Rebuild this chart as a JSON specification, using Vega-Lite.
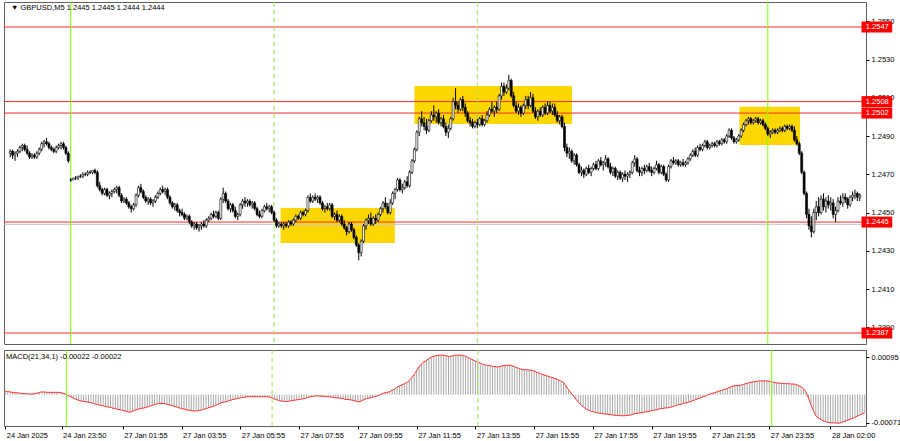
{
"$schema": "https://vega.github.io/schema/vega-lite/v6.json",
"padding": {"left": 2, "top": 1, "right": 0, "bottom": 0},
"background": "white",
"spacing": 4,
"config": {
"view": {"stroke": "#606060", "strokeWidth": 1},
"axis": {"labelFont": "Liberation Sans", "labelFontSize": 7.5, "labelColor": "#000000", "tickColor": "#000000", "tickSize": 3, "domain": false, "grid": false, "labelPadding": 2, "labelOverlap": false, "labelFlush": false},
"text": {"font": "Liberation Sans", "fontSize": 7.5}
},
"datasets": {
"levels": [{"lv":1.2547,"lab":"1.2547"},{"lv":1.2508,"lab":"1.2508"},{"lv":1.2502,"lab":"1.2502"},{"lv":1.2445,"lab":"1.2445"},{"lv":1.2387,"lab":"1.2387"}],
"zones": [{"x0":111.7,"x1":158.9,"top":1.24523,"bot":1.2434},{"x0":167,"x1":232.1,"top":1.251615,"bot":1.249628},{"x0":301.3,"x1":326.3,"top":1.250533,"bot":1.24853}],
"vlines": [{"i":25,"k":"day"},{"i":109,"k":"ses"},{"i":193,"k":"ses"},{"i":313,"k":"day"}],
"bars": [
{"i":0,"o":1.2481,"h":1.2483,"l":1.2479,"c":1.2482,"m":0.00009},
{"i":1,"o":1.2482,"h":1.2483,"l":1.2478,"c":1.2480,"m":0.00008},
{"i":2,"o":1.2480,"h":1.2482,"l":1.2477,"c":1.2481,"m":0.00007},
{"i":3,"o":1.2481,"h":1.2483,"l":1.2479,"c":1.2482,"m":0.00006},
{"i":4,"o":1.2482,"h":1.2485,"l":1.2481,"c":1.2484,"m":0.00005},
{"i":5,"o":1.2484,"h":1.2486,"l":1.2482,"c":1.2485,"m":0.00005},
{"i":6,"o":1.2485,"h":1.2486,"l":1.2482,"c":1.2483,"m":0.00004},
{"i":7,"o":1.2483,"h":1.2485,"l":1.2480,"c":1.2481,"m":0.00003},
{"i":8,"o":1.2481,"h":1.2482,"l":1.2478,"c":1.2479,"m":0.00003},
{"i":9,"o":1.2479,"h":1.2481,"l":1.2478,"c":1.2480,"m":0.00002},
{"i":10,"o":1.2480,"h":1.2481,"l":1.2478,"c":1.2479,"m":0.00002},
{"i":11,"o":1.2479,"h":1.2482,"l":1.2478,"c":1.2481,"m":0.00002},
{"i":12,"o":1.2481,"h":1.2484,"l":1.2480,"c":1.2483,"m":0.00003},
{"i":13,"o":1.2483,"h":1.2487,"l":1.2482,"c":1.2486,"m":0.00004},
{"i":14,"o":1.2486,"h":1.2488,"l":1.2484,"c":1.2487,"m":0.00006},
{"i":15,"o":1.2487,"h":1.2489,"l":1.2485,"c":1.2486,"m":0.00007},
{"i":16,"o":1.2486,"h":1.2487,"l":1.2483,"c":1.2484,"m":0.00007},
{"i":17,"o":1.2484,"h":1.2485,"l":1.2482,"c":1.2483,"m":0.00006},
{"i":18,"o":1.2483,"h":1.2484,"l":1.2481,"c":1.2482,"m":0.00006},
{"i":19,"o":1.2482,"h":1.2485,"l":1.2481,"c":1.2484,"m":0.00006},
{"i":20,"o":1.2484,"h":1.2486,"l":1.2483,"c":1.2485,"m":0.00006},
{"i":21,"o":1.2485,"h":1.2487,"l":1.2483,"c":1.2486,"m":0.00006},
{"i":22,"o":1.2486,"h":1.2487,"l":1.2483,"c":1.2484,"m":0.00006},
{"i":23,"o":1.2484,"h":1.2485,"l":1.2480,"c":1.2481,"m":0.00005},
{"i":24,"o":1.2481,"h":1.2482,"l":1.2476,"c":1.2477,"m":0.00003},
{"i":25,"o":1.2467,"h":1.2468,"l":1.2466,"c":1.2467,"m":0},
{"i":26,"o":1.2467,"h":1.2468,"l":1.2467,"c":1.2468,"m":-0.00003},
{"i":27,"o":1.2468,"h":1.2469,"l":1.2467,"c":1.2468,"m":-0.00006},
{"i":28,"o":1.2468,"h":1.2469,"l":1.2467,"c":1.2469,"m":-0.00009},
{"i":29,"o":1.2469,"h":1.2470,"l":1.2468,"c":1.2469,"m":-0.00012},
{"i":30,"o":1.2469,"h":1.2471,"l":1.2468,"c":1.2470,"m":-0.00014},
{"i":31,"o":1.2470,"h":1.2471,"l":1.2469,"c":1.2470,"m":-0.00016},
{"i":32,"o":1.2470,"h":1.2472,"l":1.2469,"c":1.2471,"m":-0.00017},
{"i":33,"o":1.2471,"h":1.2472,"l":1.2470,"c":1.2471,"m":-0.00018},
{"i":34,"o":1.2471,"h":1.2472,"l":1.2470,"c":1.2472,"m":-0.00019},
{"i":35,"o":1.2472,"h":1.2473,"l":1.2470,"c":1.2471,"m":-0.0002},
{"i":36,"o":1.2471,"h":1.2472,"l":1.2463,"c":1.2464,"m":-0.00022},
{"i":37,"o":1.2464,"h":1.2466,"l":1.2461,"c":1.2462,"m":-0.00024},
{"i":38,"o":1.2462,"h":1.2463,"l":1.2459,"c":1.2460,"m":-0.00025},
{"i":39,"o":1.2460,"h":1.2463,"l":1.2459,"c":1.2462,"m":-0.00027},
{"i":40,"o":1.2462,"h":1.2463,"l":1.2458,"c":1.2459,"m":-0.00028},
{"i":41,"o":1.2459,"h":1.2461,"l":1.2457,"c":1.2460,"m":-0.0003},
{"i":42,"o":1.2460,"h":1.2462,"l":1.2458,"c":1.2461,"m":-0.00031},
{"i":43,"o":1.2461,"h":1.2463,"l":1.2460,"c":1.2462,"m":-0.00032},
{"i":44,"o":1.2462,"h":1.2464,"l":1.2460,"c":1.2463,"m":-0.00034},
{"i":45,"o":1.2463,"h":1.2464,"l":1.2458,"c":1.2459,"m":-0.00035},
{"i":46,"o":1.2459,"h":1.2460,"l":1.2455,"c":1.2456,"m":-0.00037},
{"i":47,"o":1.2456,"h":1.2458,"l":1.2455,"c":1.2457,"m":-0.00038},
{"i":48,"o":1.2457,"h":1.2458,"l":1.2454,"c":1.2455,"m":-0.0004},
{"i":49,"o":1.2455,"h":1.2456,"l":1.2452,"c":1.2453,"m":-0.00041},
{"i":50,"o":1.2453,"h":1.2454,"l":1.2450,"c":1.2452,"m":-0.00043},
{"i":51,"o":1.2452,"h":1.2455,"l":1.2451,"c":1.2454,"m":-0.00044},
{"i":52,"o":1.2454,"h":1.2460,"l":1.2453,"c":1.2459,"m":-0.00042},
{"i":53,"o":1.2459,"h":1.2464,"l":1.2458,"c":1.2463,"m":-0.00039},
{"i":54,"o":1.2463,"h":1.2465,"l":1.2460,"c":1.2461,"m":-0.00037},
{"i":55,"o":1.2461,"h":1.2462,"l":1.2457,"c":1.2458,"m":-0.00035},
{"i":56,"o":1.2458,"h":1.2459,"l":1.2455,"c":1.2456,"m":-0.00034},
{"i":57,"o":1.2456,"h":1.2458,"l":1.2454,"c":1.2457,"m":-0.00033},
{"i":58,"o":1.2457,"h":1.2458,"l":1.2454,"c":1.2455,"m":-0.00031},
{"i":59,"o":1.2455,"h":1.2457,"l":1.2453,"c":1.2456,"m":-0.00029},
{"i":60,"o":1.2456,"h":1.2459,"l":1.2455,"c":1.2458,"m":-0.00027},
{"i":61,"o":1.2458,"h":1.2461,"l":1.2457,"c":1.2460,"m":-0.00025},
{"i":62,"o":1.2460,"h":1.2463,"l":1.2459,"c":1.2462,"m":-0.00023},
{"i":63,"o":1.2462,"h":1.2464,"l":1.2460,"c":1.2461,"m":-0.00022},
{"i":64,"o":1.2461,"h":1.2463,"l":1.2459,"c":1.2462,"m":-0.00022},
{"i":65,"o":1.2462,"h":1.2463,"l":1.2457,"c":1.2458,"m":-0.00022},
{"i":66,"o":1.2458,"h":1.2459,"l":1.2454,"c":1.2455,"m":-0.00024},
{"i":67,"o":1.2455,"h":1.2456,"l":1.2452,"c":1.2453,"m":-0.00026},
{"i":68,"o":1.2453,"h":1.2455,"l":1.2451,"c":1.2454,"m":-0.00027},
{"i":69,"o":1.2454,"h":1.2455,"l":1.2450,"c":1.2451,"m":-0.00029},
{"i":70,"o":1.2451,"h":1.2452,"l":1.2448,"c":1.2450,"m":-0.00031},
{"i":71,"o":1.2450,"h":1.2452,"l":1.2448,"c":1.2449,"m":-0.00033},
{"i":72,"o":1.2449,"h":1.2450,"l":1.2446,"c":1.2447,"m":-0.00035},
{"i":73,"o":1.2447,"h":1.2449,"l":1.2446,"c":1.2448,"m":-0.00036},
{"i":74,"o":1.2448,"h":1.2449,"l":1.2444,"c":1.2445,"m":-0.00038},
{"i":75,"o":1.2445,"h":1.2446,"l":1.2442,"c":1.2443,"m":-0.00039},
{"i":76,"o":1.2443,"h":1.2445,"l":1.2441,"c":1.2444,"m":-0.0004},
{"i":77,"o":1.2444,"h":1.2445,"l":1.2441,"c":1.2442,"m":-0.00041},
{"i":78,"o":1.2442,"h":1.2444,"l":1.2440,"c":1.2443,"m":-0.00041},
{"i":79,"o":1.2443,"h":1.2445,"l":1.2441,"c":1.2444,"m":-0.0004},
{"i":80,"o":1.2444,"h":1.2446,"l":1.2442,"c":1.2443,"m":-0.00039},
{"i":81,"o":1.2443,"h":1.2447,"l":1.2442,"c":1.2446,"m":-0.00037},
{"i":82,"o":1.2446,"h":1.2448,"l":1.2445,"c":1.2447,"m":-0.00035},
{"i":83,"o":1.2447,"h":1.2450,"l":1.2446,"c":1.2449,"m":-0.00033},
{"i":84,"o":1.2449,"h":1.2451,"l":1.2447,"c":1.2448,"m":-0.00031},
{"i":85,"o":1.2448,"h":1.2451,"l":1.2447,"c":1.2450,"m":-0.00029},
{"i":86,"o":1.2450,"h":1.2451,"l":1.2446,"c":1.2447,"m":-0.00027},
{"i":87,"o":1.2447,"h":1.2458,"l":1.2446,"c":1.2457,"m":-0.00024},
{"i":88,"o":1.2457,"h":1.2463,"l":1.2455,"c":1.2460,"m":-0.00021},
{"i":89,"o":1.2460,"h":1.2461,"l":1.2455,"c":1.2456,"m":-0.00019},
{"i":90,"o":1.2456,"h":1.2457,"l":1.2451,"c":1.2452,"m":-0.00018},
{"i":91,"o":1.2452,"h":1.2455,"l":1.2450,"c":1.2454,"m":-0.00016},
{"i":92,"o":1.2454,"h":1.2455,"l":1.2450,"c":1.2451,"m":-0.00014},
{"i":93,"o":1.2451,"h":1.2453,"l":1.2447,"c":1.2448,"m":-0.00012},
{"i":94,"o":1.2448,"h":1.2450,"l":1.2446,"c":1.2449,"m":-0.00011},
{"i":95,"o":1.2449,"h":1.2455,"l":1.2448,"c":1.2454,"m":-0.00009},
{"i":96,"o":1.2454,"h":1.2457,"l":1.2452,"c":1.2456,"m":-0.00008},
{"i":97,"o":1.2456,"h":1.2458,"l":1.2453,"c":1.2455,"m":-0.00007},
{"i":98,"o":1.2455,"h":1.2457,"l":1.2453,"c":1.2456,"m":-0.00006},
{"i":99,"o":1.2456,"h":1.2457,"l":1.2453,"c":1.2454,"m":-0.00005},
{"i":100,"o":1.2454,"h":1.2456,"l":1.2452,"c":1.2455,"m":-0.00005},
{"i":101,"o":1.2455,"h":1.2456,"l":1.2451,"c":1.2452,"m":-0.00005},
{"i":102,"o":1.2452,"h":1.2453,"l":1.2448,"c":1.2449,"m":-0.00005},
{"i":103,"o":1.2449,"h":1.2451,"l":1.2447,"c":1.2448,"m":-0.00005},
{"i":104,"o":1.2448,"h":1.2452,"l":1.2447,"c":1.2451,"m":-0.00005},
{"i":105,"o":1.2451,"h":1.2454,"l":1.2450,"c":1.2453,"m":-0.00005},
{"i":106,"o":1.2453,"h":1.2455,"l":1.2451,"c":1.2452,"m":-0.00005},
{"i":107,"o":1.2452,"h":1.2454,"l":1.2450,"c":1.2453,"m":-0.00005},
{"i":108,"o":1.2453,"h":1.2454,"l":1.2449,"c":1.2450,"m":-0.00006},
{"i":109,"o":1.2450,"h":1.2451,"l":1.2445,"c":1.2446,"m":-0.00008},
{"i":110,"o":1.2446,"h":1.2447,"l":1.2442,"c":1.2443,"m":-0.00011},
{"i":111,"o":1.2443,"h":1.2445,"l":1.2442,"c":1.2444,"m":-0.00013},
{"i":112,"o":1.2444,"h":1.2445,"l":1.2442,"c":1.2443,"m":-0.00015},
{"i":113,"o":1.2443,"h":1.2445,"l":1.2441,"c":1.2444,"m":-0.00016},
{"i":114,"o":1.2444,"h":1.2445,"l":1.2442,"c":1.2443,"m":-0.00017},
{"i":115,"o":1.2443,"h":1.2446,"l":1.2442,"c":1.2445,"m":-0.00017},
{"i":116,"o":1.2445,"h":1.2446,"l":1.2443,"c":1.2444,"m":-0.00016},
{"i":117,"o":1.2444,"h":1.2447,"l":1.2443,"c":1.2446,"m":-0.00015},
{"i":118,"o":1.2446,"h":1.2449,"l":1.2445,"c":1.2448,"m":-0.00014},
{"i":119,"o":1.2448,"h":1.2449,"l":1.2446,"c":1.2447,"m":-0.00013},
{"i":120,"o":1.2447,"h":1.2451,"l":1.2446,"c":1.2450,"m":-0.00012},
{"i":121,"o":1.2450,"h":1.2451,"l":1.2448,"c":1.2449,"m":-0.00011},
{"i":122,"o":1.2449,"h":1.2452,"l":1.2448,"c":1.2451,"m":-0.0001},
{"i":123,"o":1.2451,"h":1.2459,"l":1.2450,"c":1.2458,"m":-0.00008},
{"i":124,"o":1.2458,"h":1.2460,"l":1.2455,"c":1.2456,"m":-0.00006},
{"i":125,"o":1.2456,"h":1.2459,"l":1.2455,"c":1.2458,"m":-0.00005},
{"i":126,"o":1.2458,"h":1.2460,"l":1.2456,"c":1.2457,"m":-0.00004},
{"i":127,"o":1.2457,"h":1.2459,"l":1.2455,"c":1.2458,"m":-0.00003},
{"i":128,"o":1.2458,"h":1.2459,"l":1.2454,"c":1.2455,"m":-0.00003},
{"i":129,"o":1.2455,"h":1.2456,"l":1.2451,"c":1.2452,"m":-0.00004},
{"i":130,"o":1.2452,"h":1.2454,"l":1.2450,"c":1.2453,"m":-0.00004},
{"i":131,"o":1.2453,"h":1.2455,"l":1.2451,"c":1.2452,"m":-0.00005},
{"i":132,"o":1.2452,"h":1.2455,"l":1.2451,"c":1.2454,"m":-0.00005},
{"i":133,"o":1.2454,"h":1.2455,"l":1.2447,"c":1.2448,"m":-0.00006},
{"i":134,"o":1.2448,"h":1.2450,"l":1.2446,"c":1.2449,"m":-0.00007},
{"i":135,"o":1.2449,"h":1.2451,"l":1.2445,"c":1.2446,"m":-0.00008},
{"i":136,"o":1.2446,"h":1.2449,"l":1.2445,"c":1.2448,"m":-0.00008},
{"i":137,"o":1.2448,"h":1.2449,"l":1.2443,"c":1.2444,"m":-0.00009},
{"i":138,"o":1.2444,"h":1.2446,"l":1.2441,"c":1.2442,"m":-0.0001},
{"i":139,"o":1.2442,"h":1.2443,"l":1.2438,"c":1.2440,"m":-0.00012},
{"i":140,"o":1.2440,"h":1.2445,"l":1.2439,"c":1.2444,"m":-0.00012},
{"i":141,"o":1.2444,"h":1.2445,"l":1.2440,"c":1.2441,"m":-0.00013},
{"i":142,"o":1.2441,"h":1.2442,"l":1.2436,"c":1.2437,"m":-0.00014},
{"i":143,"o":1.2437,"h":1.2438,"l":1.2432,"c":1.2433,"m":-0.00016},
{"i":144,"o":1.2433,"h":1.2434,"l":1.2425,"c":1.2429,"m":-0.00018},
{"i":145,"o":1.2429,"h":1.2436,"l":1.2427,"c":1.2435,"m":-0.00017},
{"i":146,"o":1.2435,"h":1.2444,"l":1.2434,"c":1.2443,"m":-0.00014},
{"i":147,"o":1.2443,"h":1.2447,"l":1.2441,"c":1.2446,"m":-0.00011},
{"i":148,"o":1.2446,"h":1.2449,"l":1.2444,"c":1.2447,"m":-0.00009},
{"i":149,"o":1.2447,"h":1.2450,"l":1.2443,"c":1.2444,"m":-0.00008},
{"i":150,"o":1.2444,"h":1.2448,"l":1.2443,"c":1.2447,"m":-0.00006},
{"i":151,"o":1.2447,"h":1.2449,"l":1.2444,"c":1.2446,"m":-0.00005},
{"i":152,"o":1.2446,"h":1.2450,"l":1.2445,"c":1.2449,"m":-0.00003},
{"i":153,"o":1.2449,"h":1.2453,"l":1.2448,"c":1.2452,"m":0},
{"i":154,"o":1.2452,"h":1.2456,"l":1.2450,"c":1.2455,"m":0.00003},
{"i":155,"o":1.2455,"h":1.2458,"l":1.2452,"c":1.2453,"m":0.00005},
{"i":156,"o":1.2453,"h":1.2455,"l":1.2449,"c":1.2450,"m":0.00006},
{"i":157,"o":1.2450,"h":1.2457,"l":1.2449,"c":1.2455,"m":0.00008},
{"i":158,"o":1.2455,"h":1.2461,"l":1.2454,"c":1.2460,"m":0.00011},
{"i":159,"o":1.2460,"h":1.2463,"l":1.2457,"c":1.2462,"m":0.00014},
{"i":160,"o":1.2462,"h":1.2468,"l":1.2461,"c":1.2467,"m":0.00019},
{"i":161,"o":1.2467,"h":1.2468,"l":1.2461,"c":1.2462,"m":0.00022},
{"i":162,"o":1.2462,"h":1.2465,"l":1.2460,"c":1.2463,"m":0.00025},
{"i":163,"o":1.2463,"h":1.2467,"l":1.2462,"c":1.2466,"m":0.00028},
{"i":164,"o":1.2466,"h":1.2469,"l":1.2463,"c":1.2464,"m":0.00031},
{"i":165,"o":1.2464,"h":1.2472,"l":1.2463,"c":1.2471,"m":0.00036},
{"i":166,"o":1.2471,"h":1.2478,"l":1.2470,"c":1.2477,"m":0.00043},
{"i":167,"o":1.2477,"h":1.2484,"l":1.2476,"c":1.2483,"m":0.00051},
{"i":168,"o":1.2483,"h":1.2493,"l":1.2482,"c":1.2492,"m":0.00061},
{"i":169,"o":1.2492,"h":1.2500,"l":1.2490,"c":1.2499,"m":0.00071},
{"i":170,"o":1.2499,"h":1.2503,"l":1.2495,"c":1.2497,"m":0.00078},
{"i":171,"o":1.2497,"h":1.2500,"l":1.2493,"c":1.2495,"m":0.00083},
{"i":172,"o":1.2495,"h":1.2499,"l":1.2491,"c":1.2493,"m":0.00087},
{"i":173,"o":1.2493,"h":1.2499,"l":1.2492,"c":1.2498,"m":0.00091},
{"i":174,"o":1.2498,"h":1.2503,"l":1.2497,"c":1.2501,"m":0.00095},
{"i":175,"o":1.2501,"h":1.2506,"l":1.2498,"c":1.2500,"m":0.00097},
{"i":176,"o":1.2500,"h":1.2503,"l":1.2497,"c":1.2502,"m":0.00099},
{"i":177,"o":1.2502,"h":1.2504,"l":1.2496,"c":1.2497,"m":0.001},
{"i":178,"o":1.2497,"h":1.2500,"l":1.2495,"c":1.2499,"m":0.001},
{"i":179,"o":1.2499,"h":1.2501,"l":1.2494,"c":1.2495,"m":0.001},
{"i":180,"o":1.2495,"h":1.2497,"l":1.2490,"c":1.2492,"m":0.00098},
{"i":181,"o":1.2492,"h":1.2496,"l":1.2489,"c":1.2494,"m":0.00097},
{"i":182,"o":1.2494,"h":1.2500,"l":1.2493,"c":1.2499,"m":0.00097},
{"i":183,"o":1.2499,"h":1.2510,"l":1.2498,"c":1.2508,"m":0.00099},
{"i":184,"o":1.2508,"h":1.2515,"l":1.2504,"c":1.2506,"m":0.001},
{"i":185,"o":1.2506,"h":1.2508,"l":1.2502,"c":1.2504,"m":0.001},
{"i":186,"o":1.2504,"h":1.2510,"l":1.2503,"c":1.2509,"m":0.001},
{"i":187,"o":1.2509,"h":1.2511,"l":1.2503,"c":1.2505,"m":0.00099},
{"i":188,"o":1.2505,"h":1.2507,"l":1.2500,"c":1.2502,"m":0.00097},
{"i":189,"o":1.2502,"h":1.2503,"l":1.2497,"c":1.2498,"m":0.00094},
{"i":190,"o":1.2498,"h":1.2500,"l":1.2495,"c":1.2497,"m":0.00091},
{"i":191,"o":1.2497,"h":1.2499,"l":1.2494,"c":1.2495,"m":0.00088},
{"i":192,"o":1.2495,"h":1.2498,"l":1.2494,"c":1.2497,"m":0.00085},
{"i":193,"o":1.2497,"h":1.2499,"l":1.2494,"c":1.2496,"m":0.00082},
{"i":194,"o":1.2496,"h":1.2500,"l":1.2495,"c":1.2499,"m":0.0008},
{"i":195,"o":1.2499,"h":1.2501,"l":1.2495,"c":1.2496,"m":0.00077},
{"i":196,"o":1.2496,"h":1.2499,"l":1.2495,"c":1.2498,"m":0.00075},
{"i":197,"o":1.2498,"h":1.2503,"l":1.2497,"c":1.2501,"m":0.00074},
{"i":198,"o":1.2501,"h":1.2505,"l":1.2500,"c":1.2504,"m":0.00073},
{"i":199,"o":1.2504,"h":1.2508,"l":1.2502,"c":1.2503,"m":0.00072},
{"i":200,"o":1.2503,"h":1.2506,"l":1.2500,"c":1.2505,"m":0.00071},
{"i":201,"o":1.2505,"h":1.2508,"l":1.2502,"c":1.2504,"m":0.0007},
{"i":202,"o":1.2504,"h":1.2512,"l":1.2503,"c":1.2511,"m":0.00071},
{"i":203,"o":1.2511,"h":1.2518,"l":1.2509,"c":1.2516,"m":0.00073},
{"i":204,"o":1.2516,"h":1.2518,"l":1.2511,"c":1.2513,"m":0.00074},
{"i":205,"o":1.2513,"h":1.2517,"l":1.2512,"c":1.2515,"m":0.00074},
{"i":206,"o":1.2515,"h":1.2522,"l":1.2514,"c":1.2519,"m":0.00075},
{"i":207,"o":1.2519,"h":1.2520,"l":1.2510,"c":1.2511,"m":0.00073},
{"i":208,"o":1.2511,"h":1.2513,"l":1.2505,"c":1.2506,"m":0.00071},
{"i":209,"o":1.2506,"h":1.2508,"l":1.2502,"c":1.2503,"m":0.00068},
{"i":210,"o":1.2503,"h":1.2507,"l":1.2501,"c":1.2505,"m":0.00066},
{"i":211,"o":1.2505,"h":1.2506,"l":1.2500,"c":1.2502,"m":0.00064},
{"i":212,"o":1.2502,"h":1.2507,"l":1.2501,"c":1.2506,"m":0.00063},
{"i":213,"o":1.2506,"h":1.2511,"l":1.2504,"c":1.2509,"m":0.00063},
{"i":214,"o":1.2509,"h":1.2511,"l":1.2504,"c":1.2506,"m":0.00062},
{"i":215,"o":1.2506,"h":1.2513,"l":1.2505,"c":1.2510,"m":0.00062},
{"i":216,"o":1.2510,"h":1.2512,"l":1.2502,"c":1.2503,"m":0.0006},
{"i":217,"o":1.2503,"h":1.2505,"l":1.2499,"c":1.2500,"m":0.00057},
{"i":218,"o":1.2500,"h":1.2504,"l":1.2498,"c":1.2503,"m":0.00055},
{"i":219,"o":1.2503,"h":1.2505,"l":1.2500,"c":1.2501,"m":0.00052},
{"i":220,"o":1.2501,"h":1.2506,"l":1.2500,"c":1.2505,"m":0.0005},
{"i":221,"o":1.2505,"h":1.2507,"l":1.2501,"c":1.2502,"m":0.00048},
{"i":222,"o":1.2502,"h":1.2508,"l":1.2501,"c":1.2506,"m":0.00046},
{"i":223,"o":1.2506,"h":1.2508,"l":1.2502,"c":1.2503,"m":0.00044},
{"i":224,"o":1.2503,"h":1.2507,"l":1.2501,"c":1.2505,"m":0.00042},
{"i":225,"o":1.2505,"h":1.2507,"l":1.2500,"c":1.2501,"m":0.0004},
{"i":226,"o":1.2501,"h":1.2503,"l":1.2497,"c":1.2498,"m":0.00037},
{"i":227,"o":1.2498,"h":1.2501,"l":1.2496,"c":1.2500,"m":0.00034},
{"i":228,"o":1.2500,"h":1.2501,"l":1.2494,"c":1.2495,"m":0.00031},
{"i":229,"o":1.2495,"h":1.2497,"l":1.2482,"c":1.2484,"m":0.00022},
{"i":230,"o":1.2484,"h":1.2486,"l":1.2479,"c":1.2481,"m":0.00013},
{"i":231,"o":1.2481,"h":1.2484,"l":1.2478,"c":1.2482,"m":0.00005},
{"i":232,"o":1.2482,"h":1.2483,"l":1.2476,"c":1.2477,"m":-0.00003},
{"i":233,"o":1.2477,"h":1.2481,"l":1.2475,"c":1.2480,"m":-0.00011},
{"i":234,"o":1.2480,"h":1.2481,"l":1.2474,"c":1.2475,"m":-0.00018},
{"i":235,"o":1.2475,"h":1.2476,"l":1.2470,"c":1.2471,"m":-0.00025},
{"i":236,"o":1.2471,"h":1.2474,"l":1.2469,"c":1.2472,"m":-0.0003},
{"i":237,"o":1.2472,"h":1.2473,"l":1.2468,"c":1.2470,"m":-0.00035},
{"i":238,"o":1.2470,"h":1.2474,"l":1.2469,"c":1.2473,"m":-0.00038},
{"i":239,"o":1.2473,"h":1.2475,"l":1.2470,"c":1.2471,"m":-0.00041},
{"i":240,"o":1.2471,"h":1.2474,"l":1.2469,"c":1.2473,"m":-0.00043},
{"i":241,"o":1.2473,"h":1.2476,"l":1.2472,"c":1.2475,"m":-0.00045},
{"i":242,"o":1.2475,"h":1.2477,"l":1.2472,"c":1.2473,"m":-0.00046},
{"i":243,"o":1.2473,"h":1.2478,"l":1.2472,"c":1.2477,"m":-0.00047},
{"i":244,"o":1.2477,"h":1.2479,"l":1.2474,"c":1.2475,"m":-0.00048},
{"i":245,"o":1.2475,"h":1.2477,"l":1.2472,"c":1.2476,"m":-0.00049},
{"i":246,"o":1.2476,"h":1.2480,"l":1.2474,"c":1.2478,"m":-0.00049},
{"i":247,"o":1.2478,"h":1.2479,"l":1.2473,"c":1.2474,"m":-0.0005},
{"i":248,"o":1.2474,"h":1.2476,"l":1.2470,"c":1.2471,"m":-0.00051},
{"i":249,"o":1.2471,"h":1.2474,"l":1.2469,"c":1.2473,"m":-0.00052},
{"i":250,"o":1.2473,"h":1.2474,"l":1.2468,"c":1.2469,"m":-0.00052},
{"i":251,"o":1.2469,"h":1.2472,"l":1.2467,"c":1.2471,"m":-0.00053},
{"i":252,"o":1.2471,"h":1.2472,"l":1.2467,"c":1.2468,"m":-0.00053},
{"i":253,"o":1.2468,"h":1.2471,"l":1.2466,"c":1.2470,"m":-0.00053},
{"i":254,"o":1.2470,"h":1.2472,"l":1.2467,"c":1.2469,"m":-0.00052},
{"i":255,"o":1.2469,"h":1.2471,"l":1.2466,"c":1.2470,"m":-0.00052},
{"i":256,"o":1.2470,"h":1.2472,"l":1.2468,"c":1.2471,"m":-0.0005},
{"i":257,"o":1.2471,"h":1.2477,"l":1.2470,"c":1.2476,"m":-0.00048},
{"i":258,"o":1.2476,"h":1.2480,"l":1.2474,"c":1.2478,"m":-0.00047},
{"i":259,"o":1.2478,"h":1.2479,"l":1.2471,"c":1.2472,"m":-0.00046},
{"i":260,"o":1.2472,"h":1.2474,"l":1.2469,"c":1.2471,"m":-0.00045},
{"i":261,"o":1.2471,"h":1.2474,"l":1.2469,"c":1.2473,"m":-0.00044},
{"i":262,"o":1.2473,"h":1.2475,"l":1.2470,"c":1.2472,"m":-0.00043},
{"i":263,"o":1.2472,"h":1.2475,"l":1.2471,"c":1.2474,"m":-0.00042},
{"i":264,"o":1.2474,"h":1.2476,"l":1.2471,"c":1.2472,"m":-0.0004},
{"i":265,"o":1.2472,"h":1.2474,"l":1.2469,"c":1.2471,"m":-0.00039},
{"i":266,"o":1.2471,"h":1.2474,"l":1.2470,"c":1.2473,"m":-0.00038},
{"i":267,"o":1.2473,"h":1.2477,"l":1.2472,"c":1.2475,"m":-0.00036},
{"i":268,"o":1.2475,"h":1.2476,"l":1.2470,"c":1.2471,"m":-0.00035},
{"i":269,"o":1.2471,"h":1.2475,"l":1.2470,"c":1.2474,"m":-0.00034},
{"i":270,"o":1.2474,"h":1.2475,"l":1.2469,"c":1.2470,"m":-0.00033},
{"i":271,"o":1.2470,"h":1.2471,"l":1.2466,"c":1.2467,"m":-0.00033},
{"i":272,"o":1.2467,"h":1.2475,"l":1.2466,"c":1.2474,"m":-0.00031},
{"i":273,"o":1.2474,"h":1.2478,"l":1.2473,"c":1.2477,"m":-0.00029},
{"i":274,"o":1.2477,"h":1.2479,"l":1.2475,"c":1.2476,"m":-0.00027},
{"i":275,"o":1.2476,"h":1.2478,"l":1.2475,"c":1.2477,"m":-0.00025},
{"i":276,"o":1.2477,"h":1.2478,"l":1.2474,"c":1.2475,"m":-0.00024},
{"i":277,"o":1.2475,"h":1.2477,"l":1.2474,"c":1.2476,"m":-0.00022},
{"i":278,"o":1.2476,"h":1.2478,"l":1.2474,"c":1.2475,"m":-0.0002},
{"i":279,"o":1.2475,"h":1.2477,"l":1.2474,"c":1.2476,"m":-0.00019},
{"i":280,"o":1.2476,"h":1.2479,"l":1.2475,"c":1.2478,"m":-0.00017},
{"i":281,"o":1.2478,"h":1.2481,"l":1.2477,"c":1.2480,"m":-0.00015},
{"i":282,"o":1.2480,"h":1.2483,"l":1.2479,"c":1.2482,"m":-0.00012},
{"i":283,"o":1.2482,"h":1.2484,"l":1.2479,"c":1.2480,"m":-0.0001},
{"i":284,"o":1.2480,"h":1.2485,"l":1.2479,"c":1.2484,"m":-0.00008},
{"i":285,"o":1.2484,"h":1.2486,"l":1.2482,"c":1.2483,"m":-0.00005},
{"i":286,"o":1.2483,"h":1.2486,"l":1.2482,"c":1.2485,"m":-0.00003},
{"i":287,"o":1.2485,"h":1.2488,"l":1.2484,"c":1.2487,"m":0},
{"i":288,"o":1.2487,"h":1.2488,"l":1.2483,"c":1.2484,"m":0.00002},
{"i":289,"o":1.2484,"h":1.2486,"l":1.2483,"c":1.2485,"m":0.00004},
{"i":290,"o":1.2485,"h":1.2487,"l":1.2484,"c":1.2486,"m":0.00006},
{"i":291,"o":1.2486,"h":1.2487,"l":1.2484,"c":1.2485,"m":0.00008},
{"i":292,"o":1.2485,"h":1.2488,"l":1.2484,"c":1.2487,"m":0.0001},
{"i":293,"o":1.2487,"h":1.2488,"l":1.2485,"c":1.2486,"m":0.00012},
{"i":294,"o":1.2486,"h":1.2489,"l":1.2485,"c":1.2488,"m":0.00014},
{"i":295,"o":1.2488,"h":1.2489,"l":1.2486,"c":1.2487,"m":0.00016},
{"i":296,"o":1.2487,"h":1.2491,"l":1.2486,"c":1.2490,"m":0.00019},
{"i":297,"o":1.2490,"h":1.2494,"l":1.2489,"c":1.2493,"m":0.00022},
{"i":298,"o":1.2493,"h":1.2494,"l":1.2488,"c":1.2489,"m":0.00023},
{"i":299,"o":1.2489,"h":1.2490,"l":1.2486,"c":1.2487,"m":0.00023},
{"i":300,"o":1.2487,"h":1.2489,"l":1.2486,"c":1.2488,"m":0.00024},
{"i":301,"o":1.2488,"h":1.2491,"l":1.2487,"c":1.2490,"m":0.00025},
{"i":302,"o":1.2490,"h":1.2494,"l":1.2489,"c":1.2493,"m":0.00027},
{"i":303,"o":1.2493,"h":1.2497,"l":1.2492,"c":1.2496,"m":0.00029},
{"i":304,"o":1.2496,"h":1.2499,"l":1.2495,"c":1.2498,"m":0.00031},
{"i":305,"o":1.2498,"h":1.2500,"l":1.2496,"c":1.2499,"m":0.00032},
{"i":306,"o":1.2499,"h":1.2500,"l":1.2496,"c":1.2497,"m":0.00033},
{"i":307,"o":1.2497,"h":1.2499,"l":1.2496,"c":1.2498,"m":0.00034},
{"i":308,"o":1.2498,"h":1.2500,"l":1.2497,"c":1.2499,"m":0.00035},
{"i":309,"o":1.2499,"h":1.2500,"l":1.2496,"c":1.2497,"m":0.00035},
{"i":310,"o":1.2497,"h":1.2499,"l":1.2496,"c":1.2498,"m":0.00035},
{"i":311,"o":1.2498,"h":1.2499,"l":1.2495,"c":1.2496,"m":0.00035},
{"i":312,"o":1.2496,"h":1.2497,"l":1.2493,"c":1.2494,"m":0.00034},
{"i":313,"o":1.2494,"h":1.2495,"l":1.2490,"c":1.2491,"m":0.00032},
{"i":314,"o":1.2491,"h":1.2493,"l":1.2489,"c":1.2492,"m":0.00031},
{"i":315,"o":1.2492,"h":1.2494,"l":1.2491,"c":1.2493,"m":0.0003},
{"i":316,"o":1.2493,"h":1.2494,"l":1.2491,"c":1.2492,"m":0.00029},
{"i":317,"o":1.2492,"h":1.2494,"l":1.2491,"c":1.2493,"m":0.00029},
{"i":318,"o":1.2493,"h":1.2495,"l":1.2492,"c":1.2494,"m":0.00028},
{"i":319,"o":1.2494,"h":1.2495,"l":1.2492,"c":1.2493,"m":0.00028},
{"i":320,"o":1.2493,"h":1.2496,"l":1.2492,"c":1.2495,"m":0.00028},
{"i":321,"o":1.2495,"h":1.2496,"l":1.2493,"c":1.2494,"m":0.00027},
{"i":322,"o":1.2494,"h":1.2496,"l":1.2493,"c":1.2495,"m":0.00027},
{"i":323,"o":1.2495,"h":1.2496,"l":1.2492,"c":1.2493,"m":0.00026},
{"i":324,"o":1.2493,"h":1.2495,"l":1.2487,"c":1.2488,"m":0.00023},
{"i":325,"o":1.2488,"h":1.2490,"l":1.2485,"c":1.2486,"m":0.0002},
{"i":326,"o":1.2486,"h":1.2487,"l":1.2480,"c":1.2481,"m":0.00015},
{"i":327,"o":1.2481,"h":1.2482,"l":1.2470,"c":1.2471,"m":0.00006},
{"i":328,"o":1.2471,"h":1.2472,"l":1.2459,"c":1.2460,"m":-0.00008},
{"i":329,"o":1.2460,"h":1.2461,"l":1.2447,"c":1.2449,"m":-0.00025},
{"i":330,"o":1.2449,"h":1.2452,"l":1.2441,"c":1.2443,"m":-0.0004},
{"i":331,"o":1.2443,"h":1.2448,"l":1.2437,"c":1.2440,"m":-0.00053},
{"i":332,"o":1.2440,"h":1.2452,"l":1.2439,"c":1.2450,"m":-0.00058},
{"i":333,"o":1.2450,"h":1.2456,"l":1.2446,"c":1.2453,"m":-0.00062},
{"i":334,"o":1.2453,"h":1.2458,"l":1.2448,"c":1.2450,"m":-0.00066},
{"i":335,"o":1.2450,"h":1.2459,"l":1.2449,"c":1.2457,"m":-0.00068},
{"i":336,"o":1.2457,"h":1.2460,"l":1.2451,"c":1.2453,"m":-0.0007},
{"i":337,"o":1.2453,"h":1.2458,"l":1.2450,"c":1.2456,"m":-0.00071},
{"i":338,"o":1.2456,"h":1.2459,"l":1.2452,"c":1.2454,"m":-0.00071},
{"i":339,"o":1.2454,"h":1.2458,"l":1.2451,"c":1.2455,"m":-0.00071},
{"i":340,"o":1.2455,"h":1.2457,"l":1.2447,"c":1.2449,"m":-0.00072},
{"i":341,"o":1.2449,"h":1.2453,"l":1.2445,"c":1.2451,"m":-0.00071},
{"i":342,"o":1.2451,"h":1.2458,"l":1.2450,"c":1.2456,"m":-0.00069},
{"i":343,"o":1.2456,"h":1.2459,"l":1.2454,"c":1.2455,"m":-0.00067},
{"i":344,"o":1.2455,"h":1.2460,"l":1.2453,"c":1.2458,"m":-0.00064},
{"i":345,"o":1.2458,"h":1.2460,"l":1.2455,"c":1.2457,"m":-0.00062},
{"i":346,"o":1.2457,"h":1.2458,"l":1.2452,"c":1.2454,"m":-0.0006},
{"i":347,"o":1.2454,"h":1.2459,"l":1.2453,"c":1.2458,"m":-0.00057},
{"i":348,"o":1.2458,"h":1.2461,"l":1.2456,"c":1.2459,"m":-0.00054},
{"i":349,"o":1.2459,"h":1.2462,"l":1.2457,"c":1.2460,"m":-0.00051},
{"i":350,"o":1.2460,"h":1.2461,"l":1.2456,"c":1.2458,"m":-0.00048},
{"i":351,"o":1.2458,"h":1.2460,"l":1.2456,"c":1.2459,"m":-0.00046}
]
},
"vconcat": [
{
"width": 862,
"height": 342,
"layer": [
{"data": {"name": "zones"}, "mark": {"type": "rect", "color": "#ffd700"},
 "encoding": {
  "x": {"field": "x0", "type": "quantitative", "title": null, "scale": {"domain": [-0.5, 351.5], "nice": false, "zero": false}, "axis": null},
  "x2": {"field": "x1"},
  "y": {"field": "top", "type": "quantitative", "title": null, "scale": {"domain": [1.238125, 1.256007], "nice": false, "zero": false},
        "axis": {"orient": "right", "title": null, "values": [1.239, 1.241, 1.243, 1.245, 1.247, 1.249, 1.251, 1.253, 1.255], "format": ".4f"}},
  "y2": {"field": "bot"}}},
{"data": {"name": "levels"}, "mark": {"type": "rule", "color": "#ff2a2a", "strokeWidth": 1},
 "encoding": {"y": {"field": "lv", "type": "quantitative", "title": null, "scale": {"domain": [1.238125, 1.256007], "nice": false, "zero": false}}}},
{"data": {"values": [{"bid": 1.24438}]}, "mark": {"type": "rule", "color": "#c8c8c8", "strokeWidth": 1},
 "encoding": {"y": {"field": "bid", "type": "quantitative", "title": null, "scale": {"domain": [1.238125, 1.256007], "nice": false, "zero": false}}}},
{"data": {"name": "vlines"}, "transform": [{"filter": "datum.k == 'day'"}], "mark": {"type": "rule", "color": "#7fff00", "strokeWidth": 1},
 "encoding": {"x": {"field": "i", "type": "quantitative", "title": null, "scale": {"domain": [-0.5, 351.5], "nice": false, "zero": false}, "axis": null}}},
{"data": {"name": "vlines"}, "transform": [{"filter": "datum.k == 'ses'"}], "mark": {"type": "rule", "color": "#a8e060", "strokeWidth": 1, "strokeDash": [5, 3]},
 "encoding": {"x": {"field": "i", "type": "quantitative", "title": null, "scale": {"domain": [-0.5, 351.5], "nice": false, "zero": false}, "axis": null}}},
{"data": {"name": "bars"}, "mark": {"type": "rule", "color": "#000000", "strokeWidth": 1},
 "encoding": {
  "x": {"field": "i", "type": "quantitative", "title": null, "scale": {"domain": [-0.5, 351.5], "nice": false, "zero": false}, "axis": null},
  "y": {"field": "l", "type": "quantitative", "title": null, "scale": {"domain": [1.238125, 1.256007], "nice": false, "zero": false}},
  "y2": {"field": "h"}}},
{"data": {"name": "bars"}, "mark": {"type": "bar", "width": 2, "stroke": "#000000", "strokeWidth": 0.6},
 "encoding": {
  "x": {"field": "i", "type": "quantitative", "title": null, "scale": {"domain": [-0.5, 351.5], "nice": false, "zero": false}, "axis": null},
  "y": {"field": "o", "type": "quantitative", "title": null, "scale": {"domain": [1.238125, 1.256007], "nice": false, "zero": false}},
  "y2": {"field": "c"},
  "fill": {"condition": {"test": "datum.c >= datum.o", "value": "#ffffff"}, "value": "#000000"}}},
{"data": {"name": "levels"}, "mark": {"type": "rule", "color": "#ff0000", "strokeWidth": 11, "strokeCap": "butt"},
 "encoding": {
  "x": {"datum": 351.7, "type": "quantitative", "title": null, "scale": {"domain": [-0.5, 351.5], "nice": false, "zero": false}, "axis": null},
  "x2": {"datum": 364.4},
  "y": {"field": "lv", "type": "quantitative", "title": null, "scale": {"domain": [1.238125, 1.256007], "nice": false, "zero": false}}}},
{"data": {"name": "levels"}, "mark": {"type": "text", "color": "#ffffff", "align": "left", "baseline": "middle", "fontSize": 7.5},
 "encoding": {
  "x": {"datum": 353.5, "type": "quantitative", "title": null, "scale": {"domain": [-0.5, 351.5], "nice": false, "zero": false}, "axis": null},
  "y": {"field": "lv", "type": "quantitative", "title": null, "scale": {"domain": [1.238125, 1.256007], "nice": false, "zero": false}},
  "text": {"field": "lab"}}},
{"data": {"values": [{"t": "▼ GBPUSD,M5  1.2445 1.2445 1.2444 1.2444"}]}, "mark": {"type": "text", "color": "#000000", "align": "left", "baseline": "middle", "fontSize": 7.5},
 "encoding": {
  "x": {"datum": 0.3, "type": "quantitative", "title": null, "scale": {"domain": [-0.5, 351.5], "nice": false, "zero": false}, "axis": null},
  "y": {"datum": 1.25569, "type": "quantitative", "title": null, "scale": {"domain": [1.238125, 1.256007], "nice": false, "zero": false}},
  "text": {"field": "t"}}}
]
},
{
"width": 862,
"height": 76,
"layer": [
{"data": {"name": "bars"}, "mark": {"type": "rule", "color": "#a8a8a8", "strokeWidth": 1},
 "encoding": {
  "x": {"field": "i", "type": "quantitative", "title": null, "scale": {"domain": [-0.5, 351.5], "nice": false, "zero": false},
        "axis": {"orient": "bottom", "title": null, "values": [0, 23, 48, 72, 96, 120, 144, 168, 192, 216, 240, 264, 288, 312, 337], "labelAlign": "left", "labelOffset": 1, "labelPadding": 2,
                 "labelExpr": "['24 Jan 2025','24 Jan 23:50','27 Jan 01:55','27 Jan 03:55','27 Jan 05:55','27 Jan 07:55','27 Jan 09:55','27 Jan 11:55','27 Jan 13:55','27 Jan 15:55','27 Jan 17:55','27 Jan 19:55','27 Jan 21:55','27 Jan 23:55','28 Jan 02:00'][indexof([0,23,48,72,96,120,144,168,192,216,240,264,288,312,337], datum.value)]"}},
  "y": {"field": "m", "type": "quantitative", "title": null, "scale": {"domain": [-0.00079, 0.00113], "nice": false, "zero": false},
        "axis": {"orient": "right", "title": null, "values": [0.00095, 0, -0.00071], "labelExpr": "datum.value > 0.0005 ? '0.00095' : (datum.value < -0.0005 ? '-0.00071' : '0.00')"}},
  "y2": {"datum": 0}}},
{"data": {"name": "bars"}, "mark": {"type": "line", "color": "#ff3030", "strokeWidth": 1},
 "encoding": {
  "x": {"field": "i", "type": "quantitative", "title": null, "scale": {"domain": [-0.5, 351.5], "nice": false, "zero": false}},
  "y": {"field": "m", "type": "quantitative", "title": null, "scale": {"domain": [-0.00079, 0.00113], "nice": false, "zero": false}}}},
{"data": {"name": "vlines"}, "transform": [{"filter": "datum.k == 'day'"}], "mark": {"type": "rule", "color": "#7fff00", "strokeWidth": 1},
 "encoding": {"x": {"field": "i", "type": "quantitative", "title": null, "scale": {"domain": [-0.5, 351.5], "nice": false, "zero": false}}}},
{"data": {"name": "vlines"}, "transform": [{"filter": "datum.k == 'ses'"}], "mark": {"type": "rule", "color": "#a8e060", "strokeWidth": 1, "strokeDash": [5, 3]},
 "encoding": {"x": {"field": "i", "type": "quantitative", "title": null, "scale": {"domain": [-0.5, 351.5], "nice": false, "zero": false}}}},
{"data": {"values": [{"t": "MACD(21,34,1) -0.00022 -0.00022"}]}, "mark": {"type": "text", "color": "#000000", "align": "left", "baseline": "middle", "fontSize": 7.5},
 "encoding": {
  "x": {"datum": 0.3, "type": "quantitative", "title": null, "scale": {"domain": [-0.5, 351.5], "nice": false, "zero": false}},
  "y": {"datum": 0.00095, "type": "quantitative", "title": null, "scale": {"domain": [-0.00079, 0.00113], "nice": false, "zero": false}},
  "text": {"field": "t"}}}
]
}
]
}
